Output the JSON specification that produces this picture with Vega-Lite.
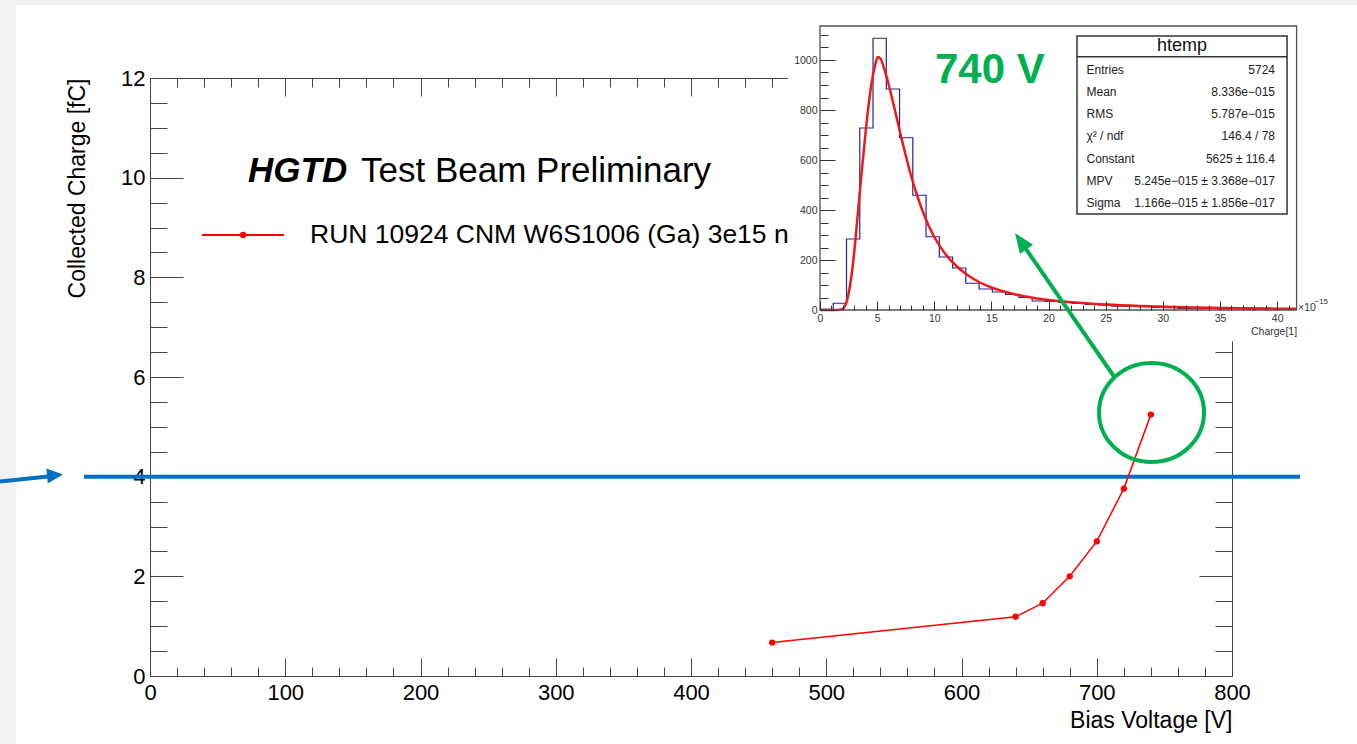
{
  "$schema": "https://vega.github.io/schema/vega-lite/v6.json",
  "width": 1082,
  "height": 598,
  "autosize": {"type": "none"},
  "padding": {"left": 150, "top": 78, "right": 125, "bottom": 68},
  "background": "white",
  "config": {
    "view": {"stroke": null},
    "font": "Liberation Sans",
    "axis": {"grid": false, "labelFont": "Liberation Sans", "titleFont": "Liberation Sans", "domainColor": "#444", "tickColor": "#444", "domainWidth": 1, "tickWidth": 1, "labelColor": "black", "titleColor": "black", "labelFlush": false, "labelOverlap": false, "titleFontWeight": "normal"}
  },
  "datasets": {
    "main": [
      {"voltage": 460, "charge": 0.67},
      {"voltage": 640, "charge": 1.19},
      {"voltage": 660, "charge": 1.46},
      {"voltage": 680, "charge": 2.0},
      {"voltage": 700, "charge": 2.70},
      {"voltage": 720, "charge": 3.76},
      {"voltage": 740, "charge": 5.245}
    ],
    "hist": [
      {"edge": 0.0, "count": 3}, {"edge": 1.16, "count": 27}, {"edge": 2.32, "count": 284}, {"edge": 3.48, "count": 728},
      {"edge": 4.64, "count": 1087}, {"edge": 5.80, "count": 884}, {"edge": 6.96, "count": 689}, {"edge": 8.12, "count": 459},
      {"edge": 9.28, "count": 293}, {"edge": 10.44, "count": 212}, {"edge": 11.60, "count": 168}, {"edge": 12.76, "count": 107},
      {"edge": 13.92, "count": 84}, {"edge": 15.08, "count": 72}, {"edge": 16.24, "count": 62}, {"edge": 17.40, "count": 50},
      {"edge": 18.56, "count": 36}, {"edge": 19.72, "count": 34}, {"edge": 20.88, "count": 30}, {"edge": 22.04, "count": 26},
      {"edge": 23.20, "count": 22}, {"edge": 24.36, "count": 20}, {"edge": 25.52, "count": 15}, {"edge": 26.68, "count": 14},
      {"edge": 27.84, "count": 13}, {"edge": 29.00, "count": 10}, {"edge": 30.16, "count": 9}, {"edge": 31.32, "count": 6},
      {"edge": 32.48, "count": 5}, {"edge": 33.64, "count": 6}, {"edge": 34.80, "count": 4}, {"edge": 35.96, "count": 5},
      {"edge": 37.12, "count": 3}, {"edge": 38.28, "count": 4}, {"edge": 39.44, "count": 3}, {"edge": 40.60, "count": 3},
      {"edge": 41.70, "count": 3}
    ],
    "fit": [
      {"q": 0, "n": 0}, {"q": 1, "n": 0}, {"q": 1.8, "n": 1}, {"q": 2.1, "n": 10}, {"q": 2.4, "n": 45}, {"q": 2.7, "n": 120},
      {"q": 3.0, "n": 235}, {"q": 3.3, "n": 380}, {"q": 3.6, "n": 530}, {"q": 3.9, "n": 670}, {"q": 4.2, "n": 800},
      {"q": 4.5, "n": 905}, {"q": 4.8, "n": 975}, {"q": 5.05, "n": 1012}, {"q": 5.3, "n": 1005}, {"q": 5.6, "n": 968},
      {"q": 6.0, "n": 903}, {"q": 6.5, "n": 810}, {"q": 7.0, "n": 712}, {"q": 7.5, "n": 618}, {"q": 8.0, "n": 532},
      {"q": 8.5, "n": 458}, {"q": 9.0, "n": 393}, {"q": 9.5, "n": 338}, {"q": 10, "n": 292}, {"q": 11, "n": 222},
      {"q": 12, "n": 173}, {"q": 13, "n": 137}, {"q": 14, "n": 110}, {"q": 15, "n": 90}, {"q": 16, "n": 75},
      {"q": 17, "n": 63}, {"q": 18, "n": 54}, {"q": 20, "n": 40}, {"q": 22, "n": 31}, {"q": 25, "n": 22},
      {"q": 28, "n": 16}, {"q": 31, "n": 12}, {"q": 34, "n": 9}, {"q": 37, "n": 7}, {"q": 40, "n": 5.5}, {"q": 41.7, "n": 5}
    ],
    "stats": [
      {"label": "Entries", "value": "5724"},
      {"label": "Mean", "value": "8.336e−015"},
      {"label": "RMS", "value": "5.787e−015"},
      {"label": "χ² / ndf", "value": "146.4 / 78"},
      {"label": "Constant", "value": "5625 ± 116.4"},
      {"label": "MPV", "value": "5.245e−015 ± 3.368e−017"},
      {"label": "Sigma", "value": "1.166e−015 ± 1.856e−017"}
    ]
  },
  "layer": [
    {
      "layer": [
        {
          "data": {"values": [{"region": "left margin"}]},
          "mark": {"type": "rect", "fill": "#f2f2f2"},
          "encoding": {
            "x": {"datum": -111, "type": "quantitative", "axis": null, "scale": {"domain": [0, 800], "nice": false, "zero": false}},
            "x2": {"datum": -99.08},
            "y": {"datum": -1.4, "type": "quantitative", "axis": null, "scale": {"domain": [0, 12], "nice": false, "zero": false}},
            "y2": {"datum": 13.6}
          }
        },
        {
          "data": {"values": [{"region": "top margin"}]},
          "mark": {"type": "rect", "fill": "#f2f2f2"},
          "encoding": {
            "x": {"datum": -111, "type": "quantitative", "axis": null},
            "x2": {"datum": 893},
            "y": {"datum": 13.465, "type": "quantitative", "axis": null},
            "y2": {"datum": 13.6}
          }
        },
        {
          "data": {"values": [{"note": "4 fC"}]},
          "mark": {"type": "rule", "color": "#0070c0", "strokeWidth": 4},
          "encoding": {
            "x": {"datum": -48.8, "type": "quantitative", "axis": null},
            "x2": {"datum": 850.3},
            "y": {"datum": 4, "type": "quantitative", "axis": null}
          }
        },
        {
          "data": {"values": [{"note": "arrow"}]},
          "mark": {"type": "rule", "color": "#0070c0", "strokeWidth": 4},
          "encoding": {
            "x": {"datum": -110.9, "type": "quantitative", "axis": null},
            "x2": {"datum": -75.4},
            "y": {"datum": 3.903, "type": "quantitative", "axis": null},
            "y2": {"datum": 4.003}
          }
        },
        {
          "data": {"values": [{"note": "arrowhead"}]},
          "mark": {"type": "point", "shape": "M 1 0 L -1 -0.94 L -1 0.94 Z", "size": 256, "filled": true, "color": "#0070c0", "opacity": 1, "angle": 355},
          "encoding": {
            "x": {"datum": -70.24, "type": "quantitative", "axis": null},
            "y": {"datum": 4.027, "type": "quantitative", "axis": null}
          }
        },
        {
          "data": {"name": "main"},
          "mark": {"type": "line", "color": "#ff0000", "strokeWidth": 1.5},
          "encoding": {
            "x": {"field": "voltage", "type": "quantitative", "scale": {"domain": [0, 800], "nice": false, "zero": false},
              "axis": {"orient": "bottom", "zindex": 0, "values": [0, 100, 200, 300, 400, 500, 600, 700, 800], "ticks": false, "domain": true, "labelFontSize": 22, "labelPadding": 6, "labelBaseline": "top",
                "title": "Bias Voltage [V]", "titleFontSize": 23, "titleX": 1082, "titleY": 51, "titleAlign": "right", "titleBaseline": "alphabetic", "titleAngle": 0}},
            "y": {"field": "charge", "type": "quantitative", "scale": {"domain": [0, 12], "nice": false, "zero": false},
              "axis": {"orient": "left", "zindex": 0, "values": [0, 2, 4, 6, 8, 10, 12], "ticks": false, "domain": true, "labelFontSize": 22, "labelPadding": 5, "labelBaseline": "middle",
                "title": "Collected Charge [fC]", "titleFontSize": 23, "titleX": -66, "titleY": 0, "titleAlign": "right", "titleBaseline": "alphabetic", "titleAngle": 270}}
          }
        },
        {
          "data": {"name": "main"},
          "mark": {"type": "point", "filled": true, "color": "#ff0000", "opacity": 1, "size": 40, "shape": "circle"},
          "encoding": {
            "x": {"field": "voltage", "type": "quantitative", "axis": {"orient": "bottom", "zindex": 0, "values": [0, 100, 200, 300, 400, 500, 600, 700, 800], "labels": false, "domain": false, "tickSize": -18, "title": null}},
            "y": {"field": "charge", "type": "quantitative", "axis": {"orient": "left", "zindex": 0, "values": [0, 2, 4, 6, 8, 10, 12], "labels": false, "domain": false, "tickSize": -33, "title": null}}
          }
        },
        {
          "data": {"name": "main"},
          "mark": {"type": "point", "opacity": 0},
          "encoding": {
            "x": {"field": "voltage", "type": "quantitative", "axis": {"orient": "bottom", "zindex": 0, "values": [0, 20, 40, 60, 80, 100, 120, 140, 160, 180, 200, 220, 240, 260, 280, 300, 320, 340, 360, 380, 400, 420, 440, 460, 480, 500, 520, 540, 560, 580, 600, 620, 640, 660, 680, 700, 720, 740, 760, 780, 800], "labels": false, "domain": false, "tickSize": -9, "title": null}},
            "y": {"field": "charge", "type": "quantitative", "axis": {"orient": "left", "zindex": 0, "values": [0, 0.5, 1, 1.5, 2, 2.5, 3, 3.5, 4, 4.5, 5, 5.5, 6, 6.5, 7, 7.5, 8, 8.5, 9, 9.5, 10, 10.5, 11, 11.5, 12], "labels": false, "domain": false, "tickSize": -17, "title": null}}
          }
        },
        {
          "data": {"name": "main"},
          "mark": {"type": "point", "opacity": 0},
          "encoding": {
            "x": {"field": "voltage", "type": "quantitative", "axis": {"orient": "top", "zindex": 0, "values": [0, 100, 200, 300, 400, 500, 600, 700, 800], "labels": false, "domain": true, "tickSize": -18, "title": null}},
            "y": {"field": "charge", "type": "quantitative", "axis": {"orient": "right", "zindex": 0, "values": [0, 2, 4, 6, 8, 10, 12], "labels": false, "domain": true, "tickSize": -33, "title": null}}
          }
        },
        {
          "data": {"name": "main"},
          "mark": {"type": "point", "opacity": 0},
          "encoding": {
            "x": {"field": "voltage", "type": "quantitative", "axis": {"orient": "top", "zindex": 0, "values": [0, 20, 40, 60, 80, 100, 120, 140, 160, 180, 200, 220, 240, 260, 280, 300, 320, 340, 360, 380, 400, 420, 440, 460, 480, 500, 520, 540, 560, 580, 600, 620, 640, 660, 680, 700, 720, 740, 760, 780, 800], "labels": false, "domain": false, "tickSize": -9, "title": null}},
            "y": {"field": "charge", "type": "quantitative", "axis": {"orient": "right", "zindex": 0, "values": [0, 0.5, 1, 1.5, 2, 2.5, 3, 3.5, 4, 4.5, 5, 5.5, 6, 6.5, 7, 7.5, 8, 8.5, 9, 9.5, 10, 10.5, 11, 11.5, 12], "labels": false, "domain": false, "tickSize": -17, "title": null}}
          }
        },
        {
          "data": {"values": [{"item": "legend line"}]},
          "mark": {"type": "rule", "color": "#ff0000", "strokeWidth": 2},
          "encoding": {
            "x": {"datum": 38.4, "type": "quantitative", "axis": null},
            "x2": {"datum": 99.1},
            "y": {"datum": 8.85, "type": "quantitative", "axis": null}
          }
        },
        {
          "data": {"values": [{"item": "legend marker"}]},
          "mark": {"type": "point", "filled": true, "color": "#ff0000", "opacity": 1, "size": 40, "shape": "circle"},
          "encoding": {
            "x": {"datum": 68.8, "type": "quantitative", "axis": null},
            "y": {"datum": 8.85, "type": "quantitative", "axis": null}
          }
        },
        {
          "data": {"values": [{"label": "RUN 10924 CNM W6S1006 (Ga) 3e15 n"}]},
          "mark": {"type": "text", "align": "left", "baseline": "alphabetic", "fontSize": 26.5, "color": "black"},
          "encoding": {
            "x": {"datum": 118.3, "type": "quantitative", "axis": null},
            "y": {"datum": 8.679, "type": "quantitative", "axis": null},
            "text": {"field": "label"}
          }
        },
        {
          "data": {"values": [{"label": "HGTD"}]},
          "mark": {"type": "text", "align": "left", "baseline": "alphabetic", "fontSize": 35, "fontWeight": "bold", "fontStyle": "italic", "color": "black"},
          "encoding": {
            "x": {"datum": 72.5, "type": "quantitative", "axis": null},
            "y": {"datum": 9.913, "type": "quantitative", "axis": null},
            "text": {"field": "label"}
          }
        },
        {
          "data": {"values": [{"label": "Test Beam Preliminary"}]},
          "mark": {"type": "text", "align": "left", "baseline": "alphabetic", "fontSize": 35, "color": "black"},
          "encoding": {
            "x": {"datum": 156.0, "type": "quantitative", "axis": null},
            "y": {"datum": 9.913, "type": "quantitative", "axis": null},
            "text": {"field": "label"}
          }
        }
      ],
      "resolve": {"axis": {"x": "independent", "y": "independent"}}
    },
    {
      "layer": [
        {
          "data": {"values": [{"region": "inset"}]},
          "mark": {"type": "rect", "fill": "white"},
          "encoding": {
            "x": {"datum": -2.8, "type": "quantitative", "axis": null, "scale": {"domain": [0, 41.7], "range": [670, 1146.6], "nice": false, "zero": false}},
            "x2": {"datum": 42.2},
            "y": {"datum": -125, "type": "quantitative", "axis": null, "scale": {"domain": [0, 1136], "range": [232, -52], "nice": false, "zero": false}},
            "y2": {"datum": 1152}
          }
        },
        {
          "data": {"name": "hist"},
          "mark": {"type": "line", "interpolate": "step-after", "color": "#24249a", "strokeWidth": 1.2},
          "encoding": {
            "x": {"field": "edge", "type": "quantitative", "scale": {"domain": [0, 41.7], "range": [670, 1146.6], "nice": false, "zero": false},
              "axis": {"orient": "bottom", "offset": -366, "zindex": 1, "values": [0, 5, 10, 15, 20, 25, 30, 35, 40], "format": "d", "ticks": false, "domain": false, "labelFontSize": 10.5, "labelPadding": 3, "labelColor": "#333", "labelBaseline": "top",
                "title": "Charge[1]", "titleFontSize": 10.5, "titleColor": "#333", "titleX": 1146.6, "titleY": 24, "titleAlign": "right", "titleBaseline": "alphabetic", "titleAngle": 0}},
            "y": {"field": "count", "type": "quantitative", "scale": {"domain": [0, 1136], "range": [232, -52], "nice": false, "zero": false},
              "axis": {"orient": "left", "offset": -670, "zindex": 1, "values": [0, 200, 400, 600, 800, 1000], "format": "d", "ticks": false, "domain": false, "labelFontSize": 10.5, "labelPadding": 3, "labelColor": "#333", "labelBaseline": "middle", "title": null}}
          }
        },
        {
          "data": {"name": "fit"},
          "mark": {"type": "line", "interpolate": "monotone", "color": "#f01818", "strokeWidth": 2.5},
          "encoding": {
            "x": {"field": "q", "type": "quantitative",
              "axis": {"orient": "bottom", "offset": -366, "zindex": 1, "values": [0, 5, 10, 15, 20, 25, 30, 35, 40], "labels": false, "domain": false, "tickSize": -9, "tickColor": "#333", "title": null}},
            "y": {"field": "n", "type": "quantitative",
              "axis": {"orient": "left", "offset": -670, "zindex": 1, "values": [0, 200, 400, 600, 800, 1000], "labels": false, "domain": false, "tickSize": -15, "tickColor": "#333", "title": null}}
          }
        },
        {
          "data": {"name": "hist"},
          "mark": {"type": "point", "opacity": 0},
          "encoding": {
            "x": {"field": "edge", "type": "quantitative",
              "axis": {"orient": "bottom", "offset": -366, "zindex": 1, "values": [0, 1, 2, 3, 4, 5, 6, 7, 8, 9, 10, 11, 12, 13, 14, 15, 16, 17, 18, 19, 20, 21, 22, 23, 24, 25, 26, 27, 28, 29, 30, 31, 32, 33, 34, 35, 36, 37, 38, 39, 40, 41], "labels": false, "domain": false, "tickSize": -5, "tickColor": "#333", "title": null}},
            "y": {"field": "count", "type": "quantitative",
              "axis": {"orient": "left", "offset": -670, "zindex": 1, "values": [0, 50, 100, 150, 200, 250, 300, 350, 400, 450, 500, 550, 600, 650, 700, 750, 800, 850, 900, 950, 1000, 1050, 1100], "labels": false, "domain": false, "tickSize": -8, "tickColor": "#333", "title": null}}
          }
        },
        {
          "data": {"values": [{"region": "inset frame"}]},
          "mark": {"type": "rect", "filled": false, "stroke": "#555", "strokeWidth": 1.3},
          "encoding": {
            "x": {"datum": 0, "type": "quantitative", "axis": null},
            "x2": {"datum": 41.7},
            "y": {"datum": 0, "type": "quantitative", "axis": null},
            "y2": {"datum": 1136}
          }
        }
      ],
      "resolve": {"axis": {"x": "independent", "y": "independent"}}
    },
    {
      "layer": [
        {
          "layer": [
            {
              "data": {"values": [{"note": "740 V point"}]},
              "mark": {"type": "point", "shape": "M -1 0 A 1 0.943 0 1 0 1 0 A 1 0.943 0 1 0 -1 0 Z", "size": 11025, "filled": false, "stroke": "#00b050", "strokeWidth": 4, "opacity": 1},
              "encoding": {
                "x": {"datum": 740.5, "type": "quantitative", "axis": null, "scale": {"domain": [0, 800], "nice": false, "zero": false}},
                "y": {"datum": 5.288, "type": "quantitative", "axis": null, "scale": {"domain": [0, 12], "nice": false, "zero": false}}
              }
            },
            {
              "data": {"values": [{"note": "green arrow"}]},
              "mark": {"type": "rule", "color": "#00b050", "strokeWidth": 4},
              "encoding": {
                "x": {"datum": 713.5, "type": "quantitative", "axis": null},
                "x2": {"datum": 645.8},
                "y": {"datum": 5.98, "type": "quantitative", "axis": null},
                "y2": {"datum": 8.643}
              }
            },
            {
              "data": {"values": [{"note": "green arrowhead"}]},
              "mark": {"type": "point", "shape": "M 1 0 L -1 -0.8 L -1 0.8 Z", "size": 400, "filled": true, "color": "#00b050", "opacity": 1, "angle": 235},
              "encoding": {
                "x": {"datum": 643.8, "type": "quantitative", "axis": null},
                "y": {"datum": 8.725, "type": "quantitative", "axis": null}
              }
            },
            {
              "data": {"values": [{"label": "740 V"}]},
              "mark": {"type": "text", "align": "left", "baseline": "alphabetic", "fontSize": 42, "fontWeight": "bold", "color": "#00b050"},
              "encoding": {
                "x": {"datum": 580.4, "type": "quantitative", "axis": null},
                "y": {"datum": 11.89, "type": "quantitative", "axis": null},
                "text": {"field": "label"}
              }
            },
            {
              "data": {"values": [{"region": "stats box"}]},
              "mark": {"type": "rect", "fill": "white", "stroke": "#333", "strokeWidth": 1.5},
              "encoding": {
                "x": {"datum": 685.4, "type": "quantitative", "axis": null},
                "x2": {"datum": 840.7},
                "y": {"datum": 9.271, "type": "quantitative", "axis": null},
                "y2": {"datum": 12.843}
              }
            },
            {
              "data": {"values": [{"region": "stats header line"}]},
              "mark": {"type": "rule", "color": "#333", "strokeWidth": 1.5},
              "encoding": {
                "x": {"datum": 685.4, "type": "quantitative", "axis": null},
                "x2": {"datum": 840.7},
                "y": {"datum": 12.428, "type": "quantitative", "axis": null}
              }
            },
            {
              "data": {"values": [{"label": "htemp"}]},
              "mark": {"type": "text", "align": "center", "baseline": "middle", "fontSize": 18, "color": "#111"},
              "encoding": {
                "x": {"datum": 763.0, "type": "quantitative", "axis": null},
                "y": {"datum": 12.652, "type": "quantitative", "axis": null},
                "text": {"field": "label"}
              }
            },
            {
              "data": {"values": [{"label": "×10"}]},
              "mark": {"type": "text", "align": "left", "baseline": "alphabetic", "fontSize": 10.5, "color": "#333"},
              "encoding": {
                "x": {"datum": 848.8, "type": "quantitative", "axis": null},
                "y": {"datum": 7.324, "type": "quantitative", "axis": null},
                "text": {"field": "label"}
              }
            },
            {
              "data": {"values": [{"label": "−15"}]},
              "mark": {"type": "text", "align": "left", "baseline": "alphabetic", "fontSize": 8, "color": "#333"},
              "encoding": {
                "x": {"datum": 861.0, "type": "quantitative", "axis": null},
                "y": {"datum": 7.465, "type": "quantitative", "axis": null},
                "text": {"field": "label"}
              }
            }
          ]
        },
        {
          "data": {"name": "stats"},
          "layer": [
            {
              "mark": {"type": "text", "align": "left", "baseline": "middle", "fontSize": 12, "color": "#222"},
              "encoding": {
                "x": {"datum": 692.4, "type": "quantitative", "axis": null},
                "y": {"field": "label", "type": "ordinal", "axis": null, "scale": {"type": "point", "domain": ["Entries", "Mean", "RMS", "χ² / ndf", "Constant", "MPV", "Sigma"], "range": [-8.3, 125], "padding": 0}},
                "text": {"field": "label"}
              }
            },
            {
              "mark": {"type": "text", "align": "right", "baseline": "middle", "fontSize": 12, "color": "#222"},
              "encoding": {
                "x": {"datum": 831.8, "type": "quantitative", "axis": null},
                "y": {"field": "label", "type": "ordinal", "axis": null},
                "text": {"field": "value"}
              }
            }
          ]
        }
      ],
      "resolve": {"scale": {"y": "independent"}}
    }
  ],
  "resolve": {
    "scale": {"x": "independent", "y": "independent"},
    "axis": {"x": "independent", "y": "independent"}
  }
}
